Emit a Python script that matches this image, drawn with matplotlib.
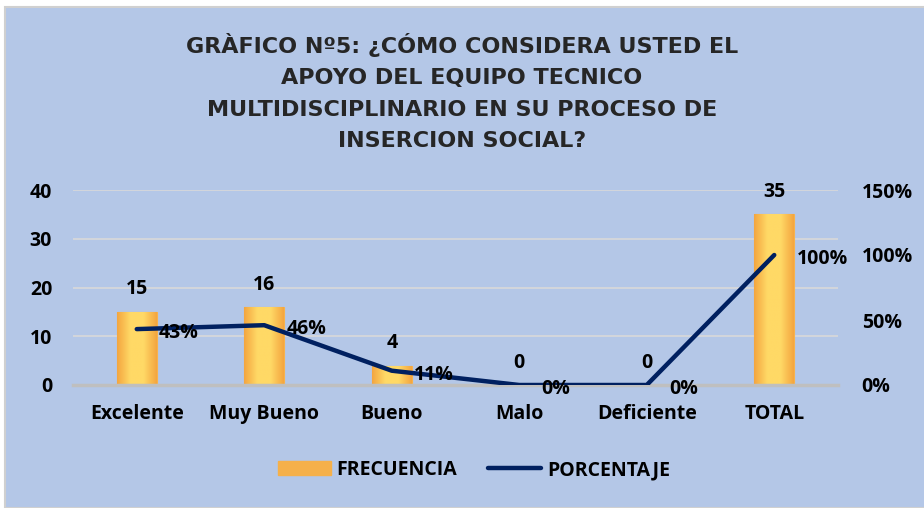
import numpy as np
import matplotlib.pyplot as plt
from matplotlib.patches import Rectangle
from matplotlib.lines import Line2D
from matplotlib.colors import LinearSegmentedColormap

plt.rcParams['font.family'] = ['Open Sans', 'DejaVu Sans']
plt.rcParams['font.weight'] = 'bold'

# Datos
categorias = ['Excelente', 'Muy Bueno', 'Bueno', 'Malo', 'Deficiente', 'TOTAL']
frecuencia = [15, 16, 4, 0, 0, 35]
porcentaje = [0.43, 0.46, 0.11, 0.0, 0.0, 1.0]
etiquetas_pct = ['43%', '46%', '11%', '0%', '0%', '100%']
titulo = ('GRÀFICO Nº5: ¿CÓMO CONSIDERA USTED EL\nAPOYO DEL EQUIPO TECNICO\n'
          'MULTIDISCIPLINARIO EN SU PROCESO DE\nINSERCION SOCIAL?')

fondo = '#b4c7e7'
azul = '#002060'

fig = plt.figure(figsize=(9.24, 5.08), dpi=100, facecolor='white')
fig.patches.append(Rectangle((5 / 924, 0), 1, 1 - 7 / 508, transform=fig.transFigure,
                             facecolor=fondo, edgecolor='#d0d0d0', lw=1.5, zorder=-5))

ax = fig.add_axes([73 / 924, 1 - 385 / 508, 765 / 924, 195 / 508])
ax.set_facecolor('none')
x = np.arange(len(categorias))

# barras con degradado
cmap = LinearSegmentedColormap.from_list('naranja', ['#f4a640', '#ffd966', '#ffd966', '#f4a640'])
barras = ax.bar(x, frecuencia, width=0.31, color='#fbc55a', edgecolor='#f6b24c', lw=0.8, zorder=2)
grad = np.linspace(0, 1, 64).reshape(1, -1)
for b in barras:
    if b.get_height() > 0:
        im = ax.imshow(grad, cmap=cmap, aspect='auto', zorder=2.5,
                       extent=[b.get_x(), b.get_x() + b.get_width(), 0, b.get_height()])
        im.set_clip_path(b)
for xi, v in zip(x, frecuencia):
    ax.text(xi, v + 4.6, str(v), ha='center', va='center', fontsize=14, fontweight='bold')

ax.set_xlim(-0.5, len(categorias) - 0.5)
ax.set_ylim(0, 40)
ax.set_yticks([0, 10, 20, 30, 40])
ax.grid(axis='y', color='#d9d9d9', lw=1.2, zorder=0)
ax.set_axisbelow(True)
for s in ['top', 'right', 'left']:
    ax.spines[s].set_visible(False)
ax.spines['bottom'].set_color('#bfbfbf')
ax.spines['bottom'].set_linewidth(2.5)
ax.tick_params(length=0, labelsize=14)
ax.tick_params(axis='y', pad=15)
ax.tick_params(axis='x', pad=14)
ax.set_xticks(x)
ax.set_xticklabels(categorias)

ax2 = ax.twinx()
ax2.set_ylim(0, 1.5)
ax2.set_yticks([0, 0.5, 1.0, 1.5])
ax2.set_yticklabels(['0%', '50%', '100%', '150%'])
ax2.tick_params(length=0, labelsize=14, pad=17)
for s in ax2.spines.values():
    s.set_visible(False)
ax2.plot(x, porcentaje, color=azul, lw=3.2, solid_capstyle='round', zorder=3)
for xi, p, t in zip(x, porcentaje, etiquetas_pct):
    ax2.annotate(t, (xi, p), xytext=(16, -3), textcoords='offset points',
                 ha='left', va='center', fontsize=14, fontweight='bold')

fig.text(0.5, 1 - 92 / 508, titulo, ha='center', va='center', fontsize=16,
         fontweight='bold', color='#262626', linespacing=1.72,
         family=['DejaVu Sans'])

handles = [Rectangle((0, 0), 1, 1, facecolor='#f5b04a', edgecolor='#f5b04a'),
           Line2D([0], [0], color=azul, lw=3.2, solid_capstyle='round')]
fig.legend(handles, ['FRECUENCIA', 'PORCENTAJE'], loc='center', ncol=2,
           bbox_to_anchor=(0.513, 1 - 470 / 508), frameon=False, fontsize=14,
           handlelength=2.7, handletextpad=0.3, columnspacing=1.6)

fig.savefig('out.png', dpi=100, facecolor='white')
